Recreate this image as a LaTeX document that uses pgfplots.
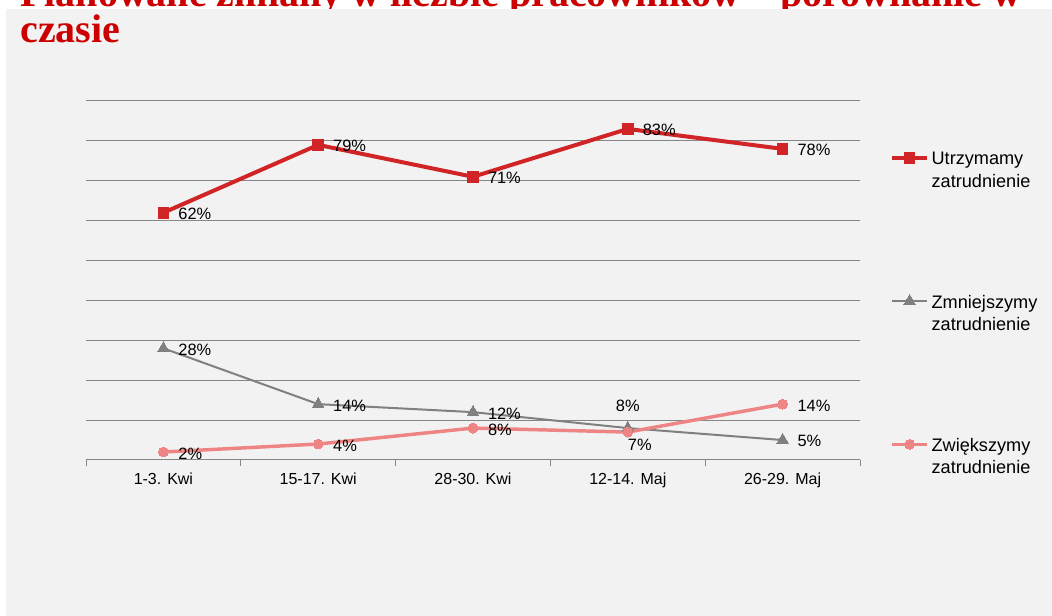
\documentclass[border=0pt]{standalone}
\usepackage{fontspec}
\setmainfont{Liberation Sans}
\newfontfamily\titlefont{Liberation Serif}
\usepackage{pgfplots}
\pgfplotsset{compat=1.18}

\definecolor{bg}{RGB}{242,242,242}
\definecolor{titlered}{RGB}{204,0,0}
\definecolor{cRed}{RGB}{208,36,38}
\definecolor{cGray}{RGB}{128,128,128}
\definecolor{cPink}{RGB}{238,132,132}
\definecolor{gridc}{RGB}{134,134,134}

\begin{document}
\begin{tikzpicture}
\useasboundingbox (0,0) rectangle (789pt,462pt);
\clip (0,0) rectangle (789pt,462pt);
\fill[white] (0,0) rectangle (789pt,462pt);
\node[anchor=base west, inner sep=0pt, text=titlered,
      font=\titlefont\bfseries\fontsize{30}{34}\selectfont]
  at (15pt,456.75pt) {Planowane zmiany w liczbie pracowników – porównanie w};
\fill[bg] (4.5pt,0) rectangle (789pt,455.25pt);
\node[anchor=base west, inner sep=0pt, text=titlered,
      font=\titlefont\bfseries\fontsize{30}{34}\selectfont]
  at (15pt,430pt) {czasie};

\begin{axis}[
  at={(64.5pt,117pt)}, anchor=south west,
  scale only axis, width=580.5pt, height=269.25pt,
  xmin=-0.5, xmax=4.5, ymin=0, ymax=90,
  axis lines*=left,
  y axis line style={draw=none},
  x axis line style={gridc, line width=0.75pt},
  xtick={0,...,4},
  xticklabels={1-3. Kwi, 15-17. Kwi, 28-30. Kwi, 12-14. Maj, 26-29. Maj},
  minor xtick={-0.5,0.5,...,4.5},
  major x tick style={draw=none},
  minor x tick style={gridc, line width=0.75pt},
  minor tick length=4.5pt, tick align=outside,
  ytick={0,10,...,90}, yticklabels={},
  major y tick style={draw=none},
  ymajorgrids, grid style={gridc, line width=0.75pt},
  tick label style={font=\fontsize{12}{14}\selectfont, text=black},
  xticklabel style={yshift=-2pt},
  clip=false,
  point meta=explicit symbolic,
  nodes near coords,
  every node near coord/.append style={anchor=west, xshift=11.25pt, yshift=-1pt,
     inner sep=0pt, text=black, font=\fontsize{12.3}{14}\selectfont},
  legend cell align=left,
  legend style={at={(1.0336,0.8746)}, anchor=north west, draw=none, fill=none,
     font=\fontsize{13.6}{17}\selectfont, row sep=94pt, column sep=2pt,
     nodes={inner sep=0pt}},
  legend image code/.code={\draw[#1, mark repeat=2, mark phase=2]
     plot coordinates {(0pt,0pt) (13pt,0pt) (26pt,0pt)};},
]
% Utrzymamy zatrudnienie
\addplot[cRed, line width=3pt, mark=square*, mark size=4pt,
  mark options={solid, line width=0pt, fill=cRed, draw=cRed}]
  coordinates {(0,62)[62\%] (1,79)[79\%] (2,71)[71\%] (3,83)[83\%] (4,78)[78\%]};
\addlegendentry{\begin{tabular}[t]{@{}l@{}}Utrzymamy\\zatrudnienie\end{tabular}}
% Zmniejszymy zatrudnienie
\addplot[cGray, line width=1.5pt, mark=triangle*, mark size=5pt,
  mark options={solid, line width=0pt, fill=cGray, draw=cGray}]
  coordinates {(0,28)[28\%] (1,14)[14\%] (2,12)[12\%] (3,8)[] (4,5)[5\%]};
\addlegendentry{\begin{tabular}[t]{@{}l@{}}Zmniejszymy\\zatrudnienie\end{tabular}}
% Zwiekszymy zatrudnienie
\addplot[cPink, line width=2.6pt, mark=*, mark size=3.7pt,
  mark options={solid, line width=0pt, fill=cPink, draw=cPink}]
  coordinates {(0,2)[2\%] (1,4)[4\%] (2,8)[8\%] (3,7)[] (4,14)[14\%]};
\addlegendentry{\begin{tabular}[t]{@{}l@{}}Zwiększymy\\zatrudnienie\end{tabular}}
% labels placed above / below instead of to the right
\addplot[forget plot, draw=none, mark=none,
  every node near coord/.append style={anchor=center, xshift=-11.25pt, yshift=17.5pt}]
  coordinates {(3,8)[8\%]};
\addplot[forget plot, draw=none, mark=none,
  every node near coord/.append style={anchor=center, xshift=-2.25pt, yshift=-8.75pt}]
  coordinates {(3,7)[7\%]};
\end{axis}
\end{tikzpicture}
\end{document}
